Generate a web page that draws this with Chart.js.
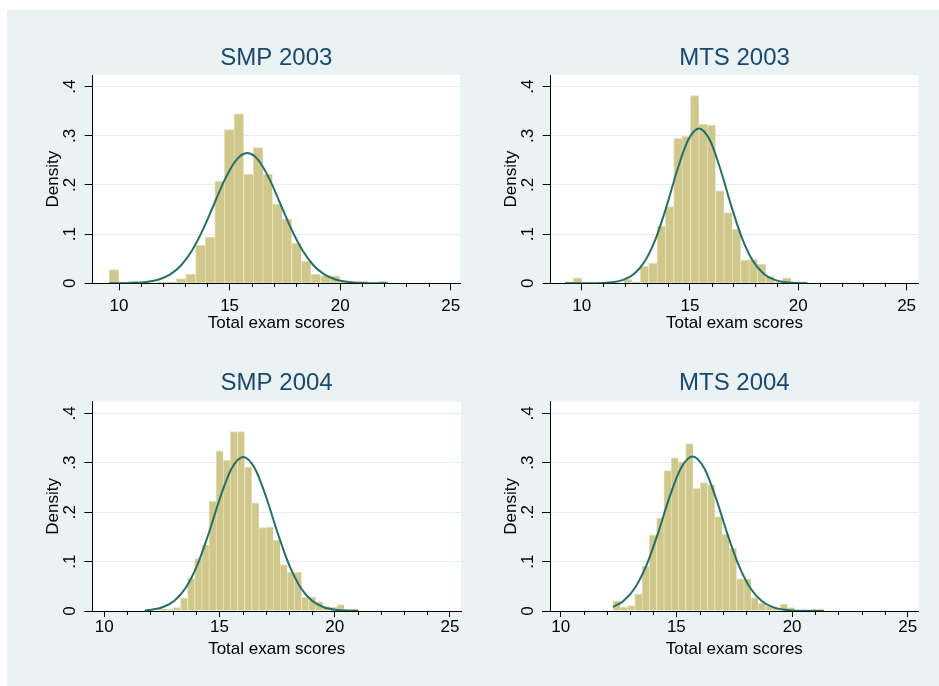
<!DOCTYPE html>
<html>
<head>
<meta charset="utf-8">
<title>Total exam scores: SMP and MTS, 2003 and 2004</title>
<script src="https://cdn.jsdelivr.net/npm/chart.js@4.4.1/dist/chart.umd.min.js"></script>
<style>
  html, body { margin: 0; padding: 0; background: #ffffff; width: 939px; height: 686px; overflow: hidden; }
  #frame { position: absolute; left: 7px; top: 10px; width: 932px; height: 676px; background: #EAF2F3; }
  canvas { position: absolute; }
</style>
</head>
<body>
<div id="frame"></div>
<canvas id="p0" width="462" height="335" style="left:7px;top:10px"></canvas>
<canvas id="p1" width="470" height="335" style="left:469px;top:10px"></canvas>
<canvas id="p2" width="462" height="341" style="left:7px;top:345px"></canvas>
<canvas id="p3" width="470" height="341" style="left:469px;top:345px"></canvas>
<script>
// ---- labels ----
const panelTitles = ['SMP 2003', 'MTS 2003', 'SMP 2004', 'MTS 2004'];
const xAxisTitle = 'Total exam scores';
const yAxisTitle = 'Density';
const xTickValues = [10, 15, 20, 25];
const xTickLabels = ['10', '15', '20', '25'];
const yTickLabels = ['0', '.1', '.2', '.3', '.4'];

// ---- histogram bins: left edge of the first bin and bin width ----
const binStart = [9.55, 9.23, 11.76, 12.26];
const binWidth = [0.4345, 0.386, 0.309, 0.314];

// ---- bin densities ----
const densitySmp2003 = [0.028, 0.003, 0.005, 0, 0, 0.002, 0.003, 0.0095, 0.019, 0.077,
  0.094, 0.208, 0.313, 0.345, 0.222, 0.276, 0.222, 0.161, 0.131, 0.082,
  0.045, 0.019, 0.0156, 0.015, 0.003, 0, 0.004, 0, 0.004];
const densityMts2003 = [0.003, 0.011, 0, 0, 0, 0, 0, 0.008, 0.003, 0.035,
  0.041, 0.117, 0.156, 0.295, 0.299, 0.382, 0.324, 0.322, 0.188, 0.144,
  0.110, 0.047, 0.049, 0.039, 0.014, 0.003, 0.011, 0.003, 0.003];
const densitySmp2004 = [0.004, 0, 0.004, 0.004, 0.007, 0.026, 0.066, 0.106, 0.134, 0.222,
  0.324, 0.305, 0.363, 0.363, 0.291, 0.219, 0.169, 0.170, 0.143, 0.094,
  0.079, 0.079, 0.028, 0.028, 0.019, 0.009, 0.008, 0.013, 0.004, 0.004];
const densityMts2004 = [0.020, 0.008, 0.011, 0.034, 0.091, 0.154, 0.188, 0.284, 0.310, 0.302,
  0.339, 0.248, 0.260, 0.256, 0.191, 0.155, 0.127, 0.065, 0.065, 0.027,
  0.016, 0.010, 0.006, 0.014, 0.007, 0, 0, 0.004, 0.004];

// ---- normal density overlays (score, density) ----
const normalXSmp2003 = [9.55, 9.8, 10.3, 10.8, 11.3, 11.8, 12.3, 12.8, 13.3, 13.8, 14.3, 14.8, 15.3, 15.8,
  16.3, 16.8, 17.3, 17.8, 18.3, 18.8, 19.3, 19.8, 20.3, 20.8, 21.3, 21.8, 22.15];
const normalYSmp2003 = [0.0001, 0.0001, 0.0003, 0.0011, 0.0030, 0.0078, 0.0177, 0.0363, 0.0667, 0.1096, 0.1613, 0.2125, 0.2508, 0.265,
  0.2508, 0.2125, 0.1613, 0.1096, 0.0667, 0.0363, 0.0177, 0.0078, 0.0030, 0.0011, 0.0003, 0.0001, 0.0000];
const normalXMts2003 = [9.23, 9.415, 9.915, 10.415, 10.915, 11.415, 11.915, 12.415, 12.915, 13.415, 13.915, 14.415, 14.915, 15.415,
  15.915, 16.415, 16.915, 17.415, 17.915, 18.415, 18.915, 19.415, 19.915, 20.415];
const normalYMts2003 = [0.0000, 0.0000, 0.0000, 0.0001, 0.0006, 0.0021, 0.0069, 0.0190, 0.0448, 0.0904, 0.1561, 0.2306, 0.2914, 0.315,
  0.2914, 0.2306, 0.1561, 0.0904, 0.0448, 0.0190, 0.0069, 0.0021, 0.0006, 0.0001];
const normalXSmp2004 = [11.76, 12.03, 12.53, 13.03, 13.53, 14.03, 14.53, 15.03, 15.53, 16.03,
  16.53, 17.03, 17.53, 18.03, 18.53, 19.03, 19.53, 20.03, 20.53, 21.03];
const normalYSmp2004 = [0.0012, 0.0024, 0.0075, 0.0201, 0.0464, 0.0921, 0.1569, 0.2297, 0.2886, 0.3115,
  0.2886, 0.2297, 0.1569, 0.0921, 0.0464, 0.0201, 0.0075, 0.0024, 0.0007, 0.0002];
const normalXMts2004 = [12.26, 12.7, 13.2, 13.7, 14.2, 14.7, 15.2, 15.7, 16.2, 16.7,
  17.2, 17.7, 18.2, 18.7, 19.2, 19.7, 20.2, 20.7, 21.2, 21.37];
const normalYMts2004 = [0.0083, 0.0198, 0.0460, 0.0916, 0.1567, 0.2299, 0.2893, 0.3124, 0.2893, 0.2299,
  0.1567, 0.0916, 0.0460, 0.0198, 0.0073, 0.0023, 0.0006, 0.0002, 0.0000, 0.0000];

const panels = [
  { density: densitySmp2003, curveX: normalXSmp2003, curveY: normalYSmp2003 },
  { density: densityMts2003, curveX: normalXMts2003, curveY: normalYMts2003 },
  { density: densitySmp2004, curveX: normalXSmp2004, curveY: normalYSmp2004 },
  { density: densityMts2004, curveX: normalXMts2004, curveY: normalYMts2004 }
];

// ---- per-panel geometry (canvas pixels) and axis ranges ----
const frames = [
  { yAxisW: 85.7, xAxisH: 61.7, padRight: 9,    titleTop: 33.6, titleBottom: 2.6, xMin: 8.81, xMax: 25.42, yMax: 0.4238, tickPad: 5.5, tickLen: 7, xTitlePad: 11.8, yTitlePad: 35.8 },
  { yAxisW: 81.7, xAxisH: 61.7, padRight: 20.7, titleTop: 33.6, titleBottom: 2.6, xMin: 8.57, xMax: 25.54, yMax: 0.4238, tickPad: 5.5, tickLen: 7, xTitlePad: 11.8, yTitlePad: 31.8 },
  { yAxisW: 85.3, xAxisH: 75,   padRight: 8,    titleTop: 23.6, titleBottom: 4.3, xMin: 9.48, xMax: 25.48, yMax: 0.4235, tickPad: 0,   tickLen: 6, xTitlePad: 26.3, yTitlePad: 35.8 },
  { yAxisW: 81,   xAxisH: 75,   padRight: 20.3, titleTop: 23.6, titleBottom: 4.3, xMin: 9.54, xMax: 25.47, yMax: 0.4235, tickPad: 0,   tickLen: 6, xTitlePad: 26.3, yTitlePad: 31.8 }
];

const BAR_FILL = '#CFC78C';
const BAR_EDGE = '#E6E1B8';
const CURVE = '#23706A';
const TITLE = '#1A476F';
const GRID = '#E3ECEF';

Chart.defaults.font.family = '"Liberation Sans", Arial, Helvetica, sans-serif';
Chart.defaults.color = '#000000';

// white plot region
const plotBackground = {
  id: 'plotBackground',
  beforeDraw(chart) {
    const { ctx, chartArea: a } = chart;
    ctx.save();
    ctx.fillStyle = '#ffffff';
    ctx.fillRect(a.left, a.top, a.right - a.left, a.bottom - a.top);
    ctx.restore();
  }
};

// short unlabeled ticks at every whole score
const minorTicks = {
  id: 'minorTicks',
  afterDraw(chart) {
    const xs = chart.scales.x;
    const { ctx } = chart;
    const y0 = Math.round(chart.chartArea.bottom);
    ctx.save();
    ctx.strokeStyle = '#000000';
    ctx.lineWidth = 1;
    ctx.beginPath();
    for (let v = xTickValues[0]; v <= xTickValues[xTickValues.length - 1]; v++) {
      if (xTickValues.includes(v)) continue;
      const px = Math.round(xs.getPixelForValue(v)) + 0.5;
      ctx.moveTo(px, y0);
      ctx.lineTo(px, y0 + 4);
    }
    ctx.stroke();
    ctx.restore();
  }
};

panels.forEach((p, i) => {
  const f = frames[i];
  const bars = p.density.map((d, k) => ({ x: binStart[i] + (k + 0.5) * binWidth[i], y: d }));
  const curve = p.curveX.map((x, k) => ({ x: x, y: p.curveY[k] }));

  new Chart(document.getElementById('p' + i), {
    type: 'bar',
    data: {
      datasets: [
        {
          type: 'line',
          data: curve,
          borderColor: CURVE,
          borderWidth: 2,
          pointRadius: 0,
          cubicInterpolationMode: 'monotone',
          fill: false,
          order: 0
        },
        {
          type: 'bar',
          data: bars,
          backgroundColor: BAR_FILL,
          borderColor: BAR_EDGE,
          borderWidth: { top: 1, left: 1, right: 0, bottom: 0 },
          borderSkipped: 'bottom',
          barPercentage: 1,
          categoryPercentage: 1,
          order: 1
        }
      ]
    },
    options: {
      responsive: false,
      animation: false,
      events: [],
      layout: { padding: { left: 0, top: 0, right: f.padRight, bottom: 0 } },
      plugins: {
        legend: { display: false },
        tooltip: { enabled: false },
        title: {
          display: true,
          text: panelTitles[i],
          color: TITLE,
          fullSize: false,
          font: { size: 24, weight: 'normal' },
          padding: { top: f.titleTop, bottom: f.titleBottom }
        }
      },
      scales: {
        x: {
          type: 'linear',
          min: f.xMin,
          max: f.xMax,
          offset: false,
          grid: { display: true, offset: false, drawOnChartArea: false, drawTicks: true,
                  tickLength: f.tickLen, tickColor: '#000000', tickWidth: 1 },
          border: { display: true, color: '#000000', width: 1 },
          ticks: {
            stepSize: 5, includeBounds: false, autoSkip: false, minRotation: 0, maxRotation: 0,
            padding: f.tickPad, color: '#000000', font: { size: 17 },
            callback: v => { const k = xTickValues.indexOf(v); return k >= 0 ? xTickLabels[k] : ''; }
          },
          title: { display: true, text: xAxisTitle, color: '#000000', font: { size: 17 },
                   padding: { top: 0, bottom: f.xTitlePad } },
          afterFit: s => { s.height = f.xAxisH; }
        },
        y: {
          type: 'linear',
          min: 0,
          max: f.yMax,
          grid: { display: true, drawOnChartArea: true, color: GRID, lineWidth: 1,
                  drawTicks: true, tickLength: 8, tickColor: '#000000', tickWidth: 1 },
          border: { display: true, color: '#000000', width: 1 },
          ticks: {
            stepSize: 0.1, includeBounds: false, autoSkip: false,
            minRotation: 90, maxRotation: 90, crossAlign: 'center',
            padding: 7, color: '#000000', font: { size: 17 },
            callback: v => { const k = Math.round(v * 10); return yTickLabels[k] !== undefined ? yTickLabels[k] : ''; }
          },
          title: { display: true, text: yAxisTitle, color: '#000000', font: { size: 17 },
                   padding: { top: f.yTitlePad, bottom: 0 } },
          afterFit: s => { s.width = f.yAxisW; }
        }
      }
    },
    plugins: [plotBackground, minorTicks]
  });
});
</script>
</body>
</html>
